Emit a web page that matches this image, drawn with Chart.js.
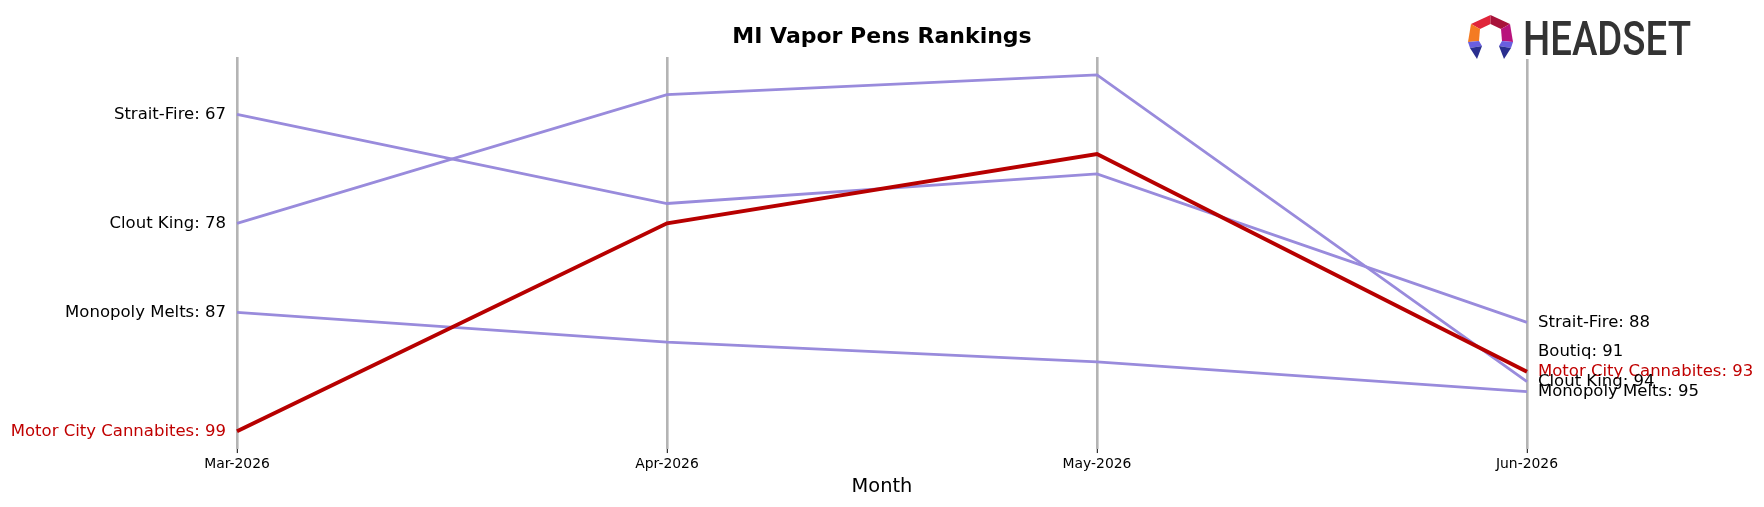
<!DOCTYPE html>
<html>
<head>
<meta charset="utf-8">
<script src="https://cdn.jsdelivr.net/npm/chart.js@4.4.1/dist/chart.umd.min.js"></script>
<style>
  body { margin: 0; background: #fff; }
  canvas { display: block; }
</style>
</head>
<body>
<canvas id="rankchart" width="1764" height="507"></canvas>
<script>
const months = ["Mar-2026", "Apr-2026", "May-2026", "Jun-2026"];

// rankings per brand (lower = better)
const motorCity = [99, 78, 71, 93];
const straitFire = [67, 76, 73, 88];
const cloutKing = [78, 65, 63, 94];
const monopolyMelts = [87, 90, 92, 95];
const boutiq = [null, null, null, 91];

const highlight = "#b70000";
const purple = "#998bdc";

// draws "Brand: rank" at both ends of each line
const endLabels = {
    id: "endLabels",
    afterDatasetsDraw(chart) {
        const ctx = chart.ctx;
        const x = chart.scales.x;
        const y = chart.scales.y;
        ctx.save();
        ctx.font = "16.5px 'DejaVu Sans'";
        ctx.textBaseline = "middle";
        const order = [1, 4, 0, 2, 3];
        order.forEach(i => {
            const ds = chart.data.datasets[i];
            const col = ds.labelColor;
            const first = ds.data.findIndex(v => v !== null);
            const last = ds.data.length - 1;
            ctx.fillStyle = col;
            if (first === 0) {
                ctx.textAlign = "right";
                ctx.fillText(ds.label + ": " + ds.data[0], x.getPixelForValue(0) - 11, y.getPixelForValue(ds.data[0]));
            }
            if (ds.data[last] !== null) {
                ctx.textAlign = "left";
                ctx.fillText(ds.label + ": " + ds.data[last], x.getPixelForValue(last) + 11, y.getPixelForValue(ds.data[last]));
            }
        });
        ctx.restore();
    }
};

// headset logo top right
const logo = {
    id: "logo",
    afterDraw(chart) {
        const ctx = chart.ctx;
        ctx.save();
        ctx.fillStyle = "#fff";
        ctx.fillRect(1462, 0, 240, 59);
        ctx.translate(1468, 15);
        const poly = (pts, c) => {
            ctx.beginPath();
            ctx.moveTo(pts[0][0], pts[0][1]);
            pts.slice(1).forEach(p => ctx.lineTo(p[0], p[1]));
            ctx.closePath();
            ctx.fillStyle = c;
            ctx.fill();
        };
        poly([[3, 9], [22.5, 0], [22.5, 9], [12, 14]], "#e0253a");
        poly([[22.5, 0], [42, 9], [33, 14], [22.5, 9]], "#a8123a");
        poly([[3, 9], [12, 14], [11, 26], [0, 27]], "#f47b22");
        poly([[42, 9], [45, 27], [34, 26], [33, 14]], "#b8137c");
        poly([[0, 27], [11, 26], [14, 31], [2, 33]], "#6a5fe0");
        poly([[2, 33], [14, 31], [9, 44]], "#2a2f8f");
        poly([[45, 27], [34, 26], [31, 31], [43, 33]], "#6a5fe0");
        poly([[43, 33], [31, 31], [36, 44]], "#2a2f8f");
        ctx.setTransform(1, 0, 0, 1, 0, 0);
        ctx.font = "500 48px Roboto";
        ctx.fillStyle = "#333333";
        ctx.textBaseline = "alphabetic";
        const w = ctx.measureText("HEADSET").width;
        ctx.translate(1523, 55);
        ctx.scale(168 / w, 1);
        ctx.fillText("HEADSET", 0, 0);
        ctx.restore();
    }
};

function line(label, data, color, width, labelColor) {
    return {
        label: label,
        data: data,
        borderColor: color,
        borderWidth: width,
        pointRadius: 0,
        tension: 0,
        fill: false,
        labelColor: labelColor
    };
}

new Chart(document.getElementById("rankchart"), {
    type: "line",
    data: {
        labels: months,
        datasets: [
            line("Motor City Cannabites", motorCity, highlight, 3.9, "#c00000"),
            line("Strait-Fire", straitFire, purple, 2.8, "#000"),
            line("Clout King", cloutKing, purple, 2.8, "#000"),
            line("Monopoly Melts", monopolyMelts, purple, 2.8, "#000"),
            line("Boutiq", boutiq, purple, 2.8, "#000")
        ]
    },
    options: {
        responsive: false,
        devicePixelRatio: 1,
        animation: false,
        layout: { padding: { left: 237, right: 237, top: 0, bottom: 0 } },
        plugins: {
            legend: { display: false },
            tooltip: { enabled: false },
            title: {
                display: true,
                text: "MI Vapor Pens Rankings",
                color: "#000",
                font: { family: "DejaVu Sans", size: 22, weight: "bold" },
                padding: { top: 24, bottom: 6.6 }
            }
        },
        scales: {
            x: {
                type: "category",
                offset: false,
                border: { display: false },
                grid: {
                    color: "#b4b4b4",
                    lineWidth: 2.6,
                    drawTicks: true,
                    tickLength: 4,
                    tickColor: "#000",
                    tickWidth: 1
                },
                ticks: {
                    color: "#000",
                    padding: 3,
                    maxRotation: 0,
                    font: { family: "DejaVu Sans", size: 13.9 }
                },
                title: {
                    display: true,
                    text: "Month",
                    color: "#000",
                    font: { family: "DejaVu Sans", size: 19.4 },
                    padding: { top: 0, bottom: 8 }
                }
            },
            y: {
                display: false,
                reverse: true,
                min: 61.2,
                max: 100.8
            }
        }
    },
    plugins: [endLabels, logo]
});
</script>
</body>
</html>
